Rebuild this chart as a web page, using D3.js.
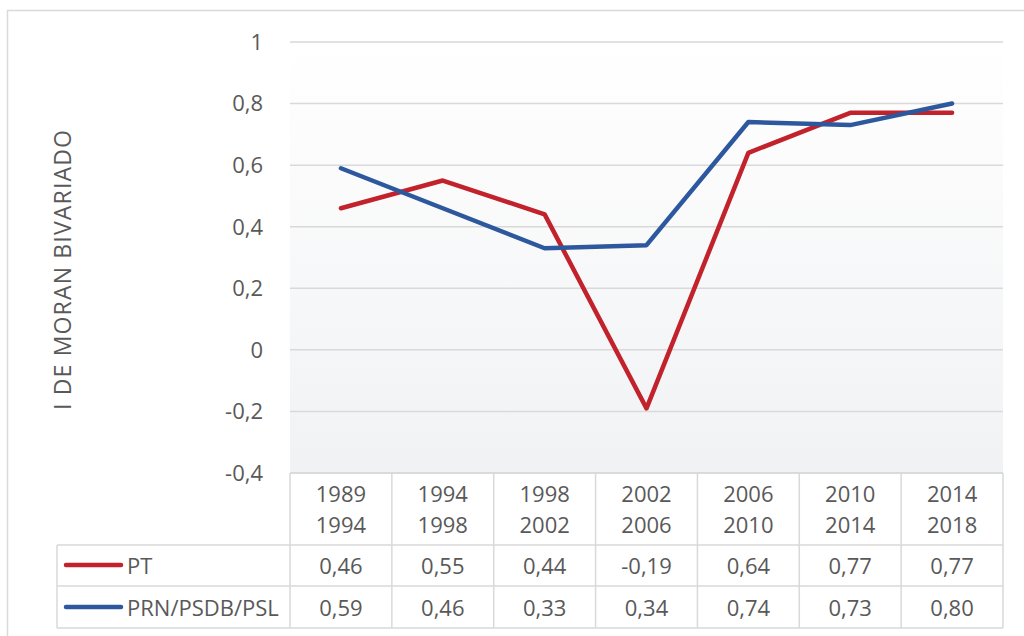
<!DOCTYPE html>
<html>
<head>
<meta charset="utf-8">
<script src="https://cdn.jsdelivr.net/npm/d3@7"></script>
<style>
  html, body { margin: 0; padding: 0; background: #fff; }
  svg text { font-family: "Open Sans", "Noto Sans", sans-serif; fill: #595959; }
</style>
</head>
<body>
<div id="chart"></div>
<script>
// data
const periodStart = ["1989", "1994", "1998", "2002", "2006", "2010", "2014"];
const periodEnd = ["1994", "1998", "2002", "2006", "2010", "2014", "2018"];
const ptValues = [0.46, 0.55, 0.44, -0.19, 0.64, 0.77, 0.77];
const prnValues = [0.59, 0.46, 0.33, 0.34, 0.74, 0.73, 0.80];
const yTicks = [-0.4, -0.2, 0, 0.2, 0.4, 0.6, 0.8, 1];
const seriesNames = ["PT", "PRN/PSDB/PSL"];
const seriesColors = ["#c1222b", "#2e589e"];

const width = 1024, height = 636;
const plotLeft = 290, plotRight = 1003, plotTop = 42, plotBottom = 473;
const legendLeft = 57;
const rowBottoms = [545, 586, 628];

const fmt = v => {
    if (v === 0) return "0";
    if (v === 1) return "1";
    return d3.format(".1f")(v).replace(".", ",").replace("−", "-");
};
const fmt2 = v => d3.format(".2f")(v).replace(".", ",").replace("−", "-");

const svg = d3.select("#chart").append("svg")
    .attr("width", width)
    .attr("height", height);

// outer border
svg.append("rect")
    .attr("x", 7.5).attr("y", 10.5)
    .attr("width", 1040).attr("height", 660)
    .attr("fill", "#fff")
    .attr("stroke", "#d9d9d9")
    .attr("stroke-width", 1.5);

const x = d3.scaleBand()
    .domain(periodStart.map((d, i) => i))
    .range([plotLeft, plotRight]);

const y = d3.scaleLinear()
    .domain([-0.4, 1])
    .range([plotBottom, plotTop]);

// plot background gradient
const defs = svg.append("defs");
const grad = defs.append("linearGradient")
    .attr("id", "bg").attr("x1", 0).attr("y1", 0).attr("x2", 0).attr("y2", 1);
grad.append("stop").attr("offset", "0%").attr("stop-color", "#ffffff");
grad.append("stop").attr("offset", "100%").attr("stop-color", "#f1f2f4");

svg.append("rect")
    .attr("x", plotLeft).attr("y", y(1))
    .attr("width", plotRight - plotLeft)
    .attr("height", plotBottom - y(1))
    .attr("fill", "url(#bg)");

// gridlines
svg.append("g")
    .selectAll("line")
    .data(yTicks)
    .join("line")
    .attr("x1", plotLeft).attr("x2", plotRight)
    .attr("y1", d => y(d)).attr("y2", d => y(d))
    .attr("stroke", "#d9d9d9")
    .attr("stroke-width", 1.5);

// y tick labels
svg.append("g")
    .selectAll("text")
    .data(yTicks)
    .join("text")
    .attr("x", 263)
    .attr("y", d => y(d))
    .attr("dy", "0.36em")
    .attr("text-anchor", "end")
    .attr("font-size", 22)
    .text(fmt);

// y axis title
svg.append("text")
    .attr("transform", "translate(71, 270) rotate(-90)")
    .attr("text-anchor", "middle")
    .attr("font-size", 23)
    .attr("textLength", 280)
    .attr("lengthAdjust", "spacing")
    .text("I DE MORAN BIVARIADO");

// data table
const table = svg.append("g")
    .attr("stroke", "#d9d9d9")
    .attr("stroke-width", 1.5);

// horizontal table lines
table.append("line")
    .attr("x1", plotLeft).attr("x2", plotRight)
    .attr("y1", plotBottom).attr("y2", plotBottom);
table.selectAll("line.h")
    .data(rowBottoms)
    .join("line")
    .attr("class", "h")
    .attr("x1", legendLeft).attr("x2", plotRight)
    .attr("y1", d => d).attr("y2", d => d);

// vertical table lines
table.selectAll("line.v")
    .data(d3.range(periodStart.length + 1))
    .join("line")
    .attr("class", "v")
    .attr("x1", d => plotLeft + d * x.bandwidth())
    .attr("x2", d => plotLeft + d * x.bandwidth())
    .attr("y1", plotBottom).attr("y2", rowBottoms[2]);
table.append("line")
    .attr("x1", legendLeft).attr("x2", legendLeft)
    .attr("y1", rowBottoms[0]).attr("y2", rowBottoms[2]);

// category labels
const cats = svg.append("g")
    .selectAll("text")
    .data(periodStart.map((d, i) => i))
    .join("text")
    .attr("text-anchor", "middle")
    .attr("font-size", 22)
    .attr("x", i => x(i) + x.bandwidth() / 2);
cats.append("tspan").attr("y", 502).text(i => periodStart[i]);
cats.append("tspan")
    .attr("x", i => x(i) + x.bandwidth() / 2)
    .attr("y", 533).text(i => periodEnd[i]);

// value rows
const allSeries = [ptValues, prnValues];
const rowBaselines = [574, 616];
const rowMids = [565, 607];

allSeries.forEach((vals, s) => {
    svg.append("g")
        .selectAll("text")
        .data(vals)
        .join("text")
        .attr("x", (d, i) => x(i) + x.bandwidth() / 2)
        .attr("y", rowBaselines[s])
        .attr("text-anchor", "middle")
        .attr("font-size", 22)
        .text(fmt2);

    // legend key
    svg.append("line")
        .attr("x1", 66).attr("x2", 121)
        .attr("y1", rowMids[s]).attr("y2", rowMids[s])
        .attr("stroke", seriesColors[s])
        .attr("stroke-width", 4.5)
        .attr("stroke-linecap", "round");
    svg.append("text")
        .attr("x", 127)
        .attr("y", rowBaselines[s])
        .attr("font-size", 22)
        .text(seriesNames[s]);
});

// lines
const line = d3.line()
    .x((d, i) => x(i) + x.bandwidth() / 2)
    .y(d => y(d));

allSeries.forEach((vals, s) => {
    svg.append("path")
        .datum(vals)
        .attr("d", line)
        .attr("fill", "none")
        .attr("stroke", seriesColors[s])
        .attr("stroke-width", 4.5)
        .attr("stroke-linecap", "round")
        .attr("stroke-linejoin", "round");
});
</script>
</body>
</html>
